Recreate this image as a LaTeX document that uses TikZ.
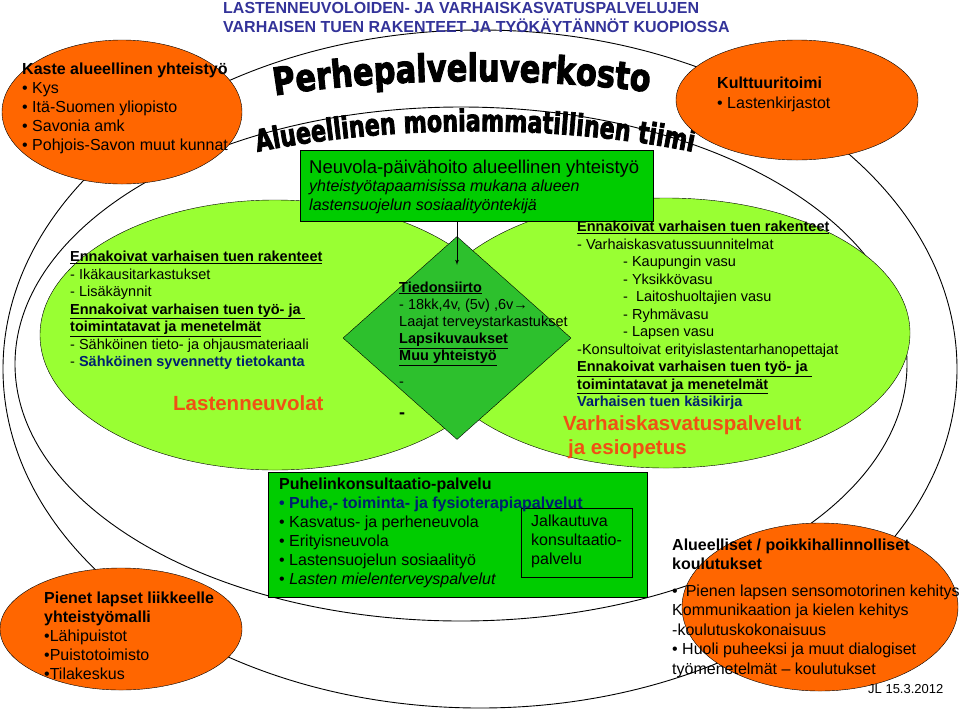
\documentclass[tikz,border=0pt]{standalone}
\usepackage{fontspec}
\setmainfont{Liberation Sans}
\newfontface\wordart[FakeStretch=0.8,FakeBold=2.5]{DejaVu Sans Bold}
\newfontface\wordartnarrow[FakeStretch=0.74,FakeBold=2.5]{DejaVu Sans Bold}
\usepackage{xcolor}
\definecolor{kuopioorange}{RGB}{255, 102, 0}
\definecolor{lightgreen}{RGB}{153, 255, 51}
\definecolor{boxgreen}{RGB}{0, 204, 0}
\definecolor{diamondgreen}{RGB}{45, 192, 45}
\definecolor{titleblue}{RGB}{51, 51, 153}
\definecolor{navy}{RGB}{0, 32, 112}
\definecolor{headred}{RGB}{240, 80, 20}
\usetikzlibrary{shapes.geometric, arrows, decorations.text}
\newcommand{\setfs}[2]{\fontsize{#1}{#2}\selectfont}
\newcommand{\ubold}[1]{\underline{\textbf{#1}}}

\begin{document}
\begin{tikzpicture}[x=1pt, y=-1pt,
        ring/.style={ellipse, draw, line width=0.9pt, inner sep=0pt},
        orangeoval/.style={ellipse, draw, fill=kuopioorange, inner sep=0pt},
        greenoval/.style={ellipse, draw, fill=lightgreen, inner sep=0pt},
        greenbox/.style={rectangle, draw, fill=boxgreen, inner sep=0pt},
        txt/.style={anchor=north west, align=left, inner sep=0pt, execute at begin node=\strut},
        oneline/.style={anchor=base west, inner sep=0pt},
        line/.style={draw, -latex', thick}]

        \useasboundingbox (0,0) rectangle (960,710);

        \node [ring, minimum width=954pt, minimum height=678pt] (outerring) at (480,369) {};
        \node [ring, minimum width=892pt, minimum height=514pt] (innerring) at (461,364) {};

        \path [decorate, decoration={text along path, text align=center,
            text={|\wordart\setfs{38}{38}|Perhepalveluverkosto}}]
            (255,99) .. controls (378,76) and (546,76) .. (669,95);
        \path [decorate, decoration={text along path, text align=center,
            text={|\wordartnarrow\setfs{30}{30}|Alueellinen moniammatillinen tiimi}}]
            (238,156) .. controls (385,123) and (565,123) .. (712,156);

        \node [orangeoval, minimum width=240pt, minimum height=144pt] (kaste) at (122,112) {};
        \node [orangeoval, minimum width=242pt, minimum height=120pt] (kulttuuri) at (797,100) {};
        \node [orangeoval, minimum width=242pt, minimum height=122pt] (pienet) at (121,629) {};
        \node [orangeoval, minimum width=276pt, minimum height=168pt] (koulutus) at (820,607) {};

        \node [greenoval, minimum width=470pt, minimum height=270pt] (neuvolat) at (275,335) {};
        \node [greenoval, minimum width=488pt, minimum height=270pt] (varhais) at (666,333) {};

        \node [greenbox, minimum width=353pt, minimum height=71pt] (neuvola) at (476.5,185.5) {};
        \node [diamond, draw, fill=diamondgreen, minimum width=228pt, minimum height=203pt, inner sep=0pt] (kite) at (457,338) {};
        \coordinate (arrowtip) at (457,265);
        \path [line] (neuvola.south -| kite.north) -- (arrowtip);

        \node [greenbox, minimum width=379pt, minimum height=125pt] (puhelin) at (457.5,534.5) {};
        \node [rectangle, draw, minimum width=111pt, minimum height=69pt, inner sep=0pt] (jalkautuva) at (576.5,542.5) {};

        \node [txt, font=\setfs{16}{19}\bfseries, text=titleblue] (title) at (223,1.7)
        {LASTENNEUVOLOIDEN- JA VARHAISKASVATUSPALVELUJEN\\
        VARHAISEN TUEN RAKENTEET JA TYÖKÄYTÄNNÖT KUOPIOSSA};

        \node [txt, font=\setfs{16}{19}] (kastetext) at (22,62.7)
        {\textbf{Kaste alueellinen yhteistyö}\\
        • Kys\\
        • Itä-Suomen yliopisto\\
        • Savonia amk\\
        • Pohjois-Savon muut kunnat};

        \node [txt, font=\setfs{16}{20}] (kulttuuritext) at (717,77)
        {\textbf{Kulttuuritoimi}\\
        • Lastenkirjastot};

        \node [oneline, font=\setfs{18.5}{22}] (neuvolatitle) at (309,173)
        {Neuvola-päivähoito alueellinen yhteistyö};
        \node [txt, font=\setfs{16}{19}\itshape] (neuvolasub) at (309,179.7)
        {yhteistyötapaamisissa mukana alueen\\
        lastensuojelun sosiaalityöntekijä};

        \node [txt, font=\setfs{14.5}{17.5}] (neuvolattext) at (70,251)
        {\ubold{Ennakoivat varhaisen tuen rakenteet}\\
        - Ikäkausitarkastukset\\
        - Lisäkäynnit\\
        \ubold{Ennakoivat varhaisen tuen työ- ja\ }\\
        \ubold{toimintatavat ja menetelmät}\\
        - Sähköinen tieto- ja ohjausmateriaali\\
        - {\color{navy}\textbf{Sähköinen syvennetty tietokanta}}};
        \node [oneline, font=\setfs{20.5}{24}\bfseries, text=headred] (neuvolathead) at (173,410) {Lastenneuvolat};

        \node [txt, font=\setfs{14.5}{17.2}] (kitetext) at (399,281.3)
        {\ubold{Tiedonsiirto}\\
        - 18kk,4v, (5v) ,6v→\\
        Laajat terveystarkastukset\\
        \ubold{Lapsikuvaukset}\\
        \ubold{Muu yhteistyö}\\[8.6pt]
        -};
        \node [oneline, font=\setfs{18}{20}\bfseries] (kitedash) at (399,418) {-};

        \node [txt, font=\setfs{14.5}{17.5}] (varhaistext) at (577,221)
        {\ubold{Ennakoivat varhaisen tuen rakenteet}\\
        - Varhaiskasvatussuunnitelmat\\
        \hspace*{46pt}- Kaupungin vasu\\
        \hspace*{46pt}- Yksikkövasu\\
        \hspace*{46pt}-\ \ Laitoshuoltajien vasu\\
        \hspace*{46pt}- Ryhmävasu\\
        \hspace*{46pt}- Lapsen vasu\\
        -Konsultoivat erityislastentarhanopettajat\\
        \ubold{Ennakoivat varhaisen tuen työ- ja\ }\\
        \ubold{toimintatavat ja menetelmät}\\
        {\color{navy}\textbf{Varhaisen tuen käsikirja}}};
        \node [txt, font=\setfs{20.5}{24}\bfseries, text=headred] (varhaishead) at (563,415.2)
        {Varhaiskasvatuspalvelut\\
        \hspace*{5pt}ja esiopetus};

        \node [txt, font=\setfs{16}{19}] (puhelintext) at (279,477.7)
        {\textbf{Puhelinkonsultaatio-palvelu}\\
        {\color{navy}\textbf{• Puhe,- toiminta- ja fysioterapiapalvelut}}\\
        • Kasvatus- ja perheneuvola\\
        • Erityisneuvola\\
        • Lastensuojelun sosiaalityö\\
        • \textit{Lasten mielenterveyspalvelut}};
        \node [txt, font=\setfs{16}{19}] (jalkautuvatext) at (531,514.7)
        {Jalkautuva\\
        konsultaatio-\\
        palvelu};

        \node [txt, font=\setfs{16}{19}] (pienettext) at (44,591.7)
        {\textbf{Pienet lapset liikkeelle}\\
        \textbf{yhteistyömalli}\\
        •Lähipuistot\\
        •Puistotoimisto\\
        •Tilakeskus};

        \node [txt, font=\setfs{16}{19}\bfseries] (koulutushead) at (672,538.7)
        {Alueelliset / poikkihallinnolliset\\
        koulutukset};
        \node [txt, font=\setfs{16}{19.5}] (koulutustext) at (672,584.4)
        {•\hspace{8pt}Pienen lapsen sensomotorinen kehitys\\
        Kommunikaation ja kielen kehitys\\
        -koulutuskokonaisuus\\
        • Huoli puheeksi ja muut dialogiset\\
        työmenetelmät -- koulutukset};

        \node [oneline, font=\setfs{13}{15}] (signature) at (868,693) {JL 15.3.2012};
    \end{tikzpicture}
\end{document}
